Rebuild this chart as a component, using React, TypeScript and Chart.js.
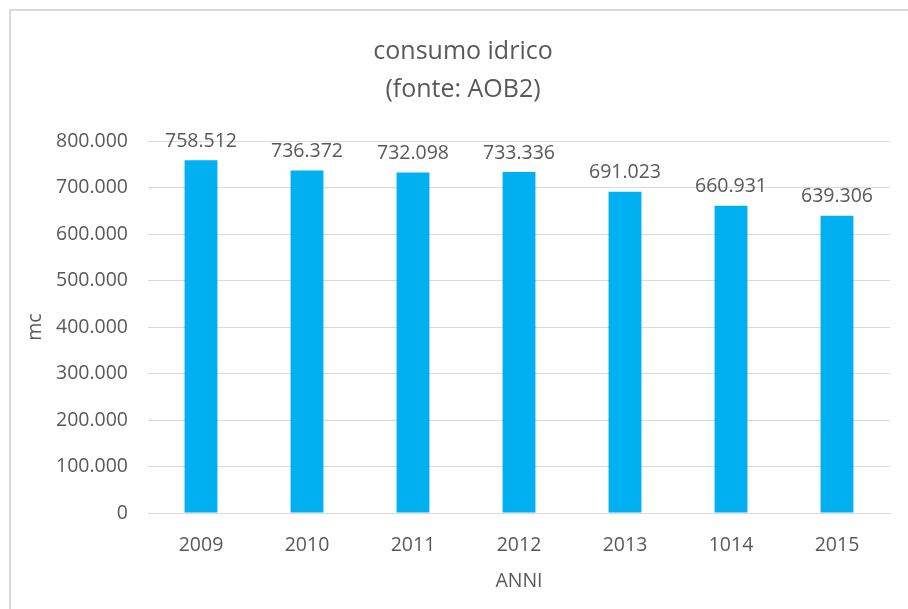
import React, { useEffect, useRef } from "react";
import { Chart, registerables } from "chart.js";

Chart.register(...registerables);

const categories = ["2009", "2010", "2011", "2012", "2013", "1014", "2015"];
const values = [758512, 736372, 732098, 733336, 691023, 660931, 639306];
const titleLines = ["consumo idrico", "(fonte: AOB2)"];
const yTitle = "mc";
const xTitle = "ANNI";

const FONT = "'Open Sans', 'Noto Sans', sans-serif";
const TEXT = "#595959";
const GRID = "#D9D9D9";
const BAR = "#00B0F0";

const TITLE_SIZE = 25;
const TITLE_LH = 1.52;
const TITLE_PAD_TOP = 33;
const TITLE_CENTER_X = 463;

function fmt(v: number): string {
  const s = Math.round(v).toString();
  return s.replace(/\B(?=(\d{3})+(?!\d))/g, ".");
}

const dataLabels = {
  id: "dataLabels",
  afterDatasetsDraw(chart: any) {
    const ctx = chart.ctx;
    const meta = chart.getDatasetMeta(0);
    ctx.save();
    ctx.font = `19.5px ${FONT}`;
    ctx.fillStyle = TEXT;
    ctx.textAlign = "center";
    ctx.textBaseline = "middle";
    meta.data.forEach((bar: any, i: number) => {
      ctx.fillText(fmt(values[i]), bar.x, bar.y - 19);
    });
    ctx.restore();
  },
};

const frameTitle = {
  id: "frameTitle",
  afterDraw(chart: any) {
    const ctx = chart.ctx;
    const block = chart.titleBlock;
    const top = block ? block.top : 0;
    const lh = TITLE_SIZE * TITLE_LH;
    ctx.save();
    ctx.font = `${TITLE_SIZE}px ${FONT}`;
    ctx.fillStyle = TEXT;
    ctx.textAlign = "center";
    ctx.textBaseline = "middle";
    titleLines.forEach((line, i) => {
      ctx.fillText(line, TITLE_CENTER_X, top + TITLE_PAD_TOP + lh * (i + 0.5));
    });
    ctx.restore();
  },
};

export default function App() {
  const ref = useRef<HTMLCanvasElement | null>(null);
  useEffect(() => {
    if (!ref.current) return;
    const chart = new Chart(ref.current, {
      type: "bar",
      data: {
        labels: categories,
        datasets: [
          {
            data: values,
            backgroundColor: BAR,
            borderWidth: 0,
            barPercentage: 0.62,
            categoryPercentage: 0.5,
          },
        ],
      },
      options: {
        responsive: false,
        animation: false,
        devicePixelRatio: 1,
        layout: { padding: { left: 0, right: 18, top: 0, bottom: 0 } },
        plugins: {
          legend: { display: false },
          tooltip: { enabled: false },
          title: {
            display: true,
            text: titleLines,
            color: "rgba(0,0,0,0)",
            font: { family: FONT, size: TITLE_SIZE, weight: "normal", lineHeight: TITLE_LH },
            padding: { top: TITLE_PAD_TOP, bottom: 32 },
          },
        },
        scales: {
          x: {
            grid: { display: false, drawTicks: false },
            border: { display: true, color: GRID, width: 1 },
            ticks: {
              color: TEXT,
              font: { family: FONT, size: 19.5 },
              padding: 21,
            },
            title: {
              display: true,
              text: xTitle,
              color: TEXT,
              font: { family: FONT, size: 19.5, lineHeight: 1.2 },
              padding: { top: 0, bottom: 16 },
            },
            afterFit: (scale: any) => {
              scale.height = 96;
            },
          },
          y: {
            min: 0,
            max: 800000,
            ticks: {
              stepSize: 100000,
              color: TEXT,
              font: { family: FONT, size: 19.5 },
              padding: 20,
              callback: (v: any) => fmt(Number(v)),
            },
            grid: { color: GRID, lineWidth: 1, drawTicks: false },
            border: { display: false },
            title: {
              display: true,
              text: yTitle,
              color: TEXT,
              font: { family: FONT, size: 19.5, lineHeight: 1.2 },
              padding: { top: 24, bottom: 0 },
            },
            afterFit: (scale: any) => {
              scale.width = 148;
            },
          },
        },
      },
      plugins: [dataLabels, frameTitle],
    });
    return () => chart.destroy();
  }, []);

  return (
    <div
      style={{
        position: "fixed",
        left: 0,
        top: 0,
        width: 908,
        height: 609,
        background: "#fff",
        overflow: "hidden",
      }}
    >
      <div
        style={{
          position: "absolute",
          left: 9,
          top: 9,
          width: 920,
          height: 620,
          borderTop: "2px solid #D9D9D9",
          borderLeft: "2px solid #D9D9D9",
        }}
      />
      <canvas
        ref={ref}
        width={908}
        height={609}
        style={{ position: "absolute", left: 0, top: 0, width: 908, height: 609 }}
      />
    </div>
  );
}
